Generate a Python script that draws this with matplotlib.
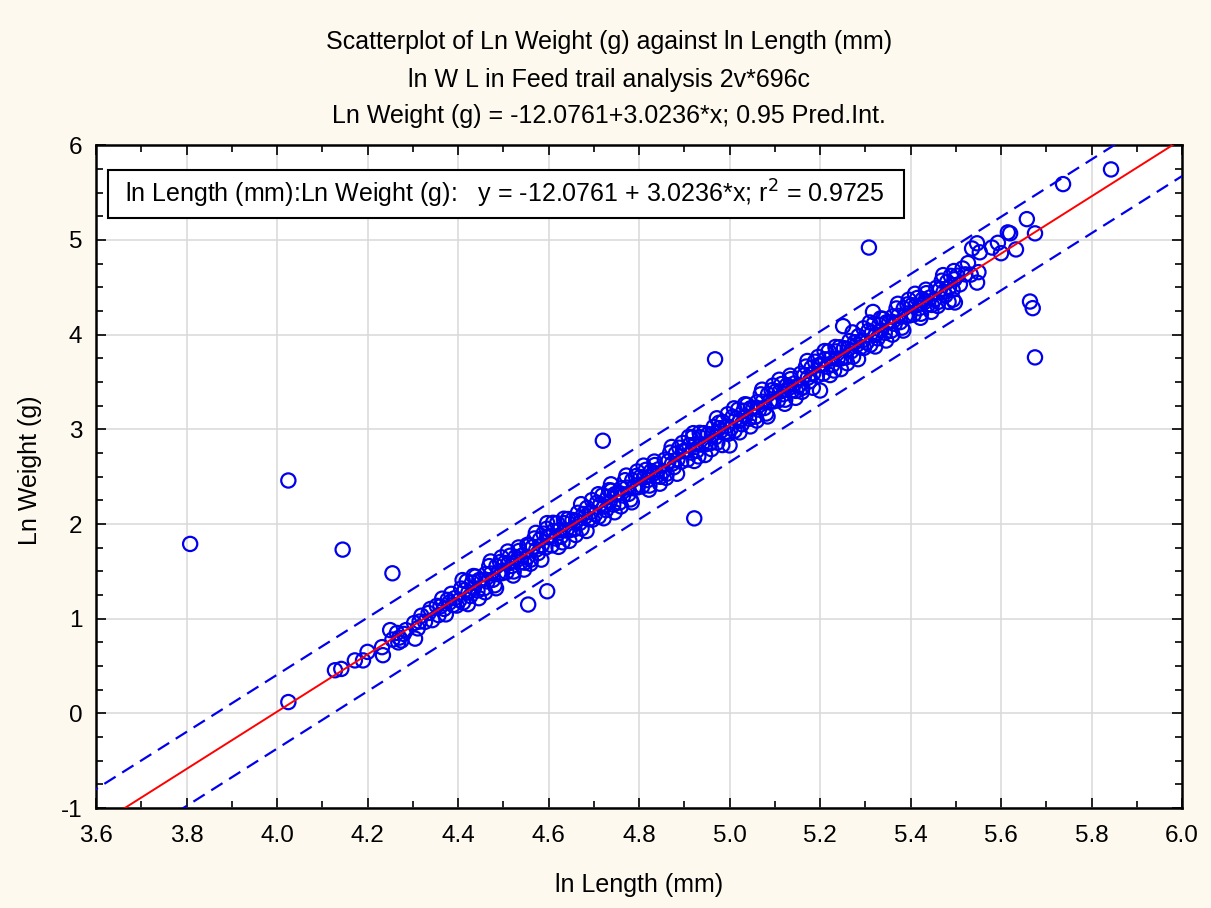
import matplotlib.pyplot as plt
import numpy as np
from matplotlib.ticker import MultipleLocator
from matplotlib.patches import Rectangle

# fitted model printed on the chart
intercept = -12.0761
slope = 3.0236
r_squared = 0.9725
resid_sd = 0.197

# main body of the cloud (group by group)
core_x = [
    4.303, 4.311, 4.319, 4.327, 4.335, 4.343, 4.315, 4.339,
    4.353, 4.357, 4.361, 4.365, 4.369, 4.373, 4.377, 4.381, 4.385, 4.389, 4.393, 4.397,
    4.403, 4.407, 4.411, 4.415, 4.419, 4.423, 4.427, 4.431, 4.435, 4.439, 4.443, 4.447,
    4.453, 4.457, 4.461, 4.465, 4.469, 4.473, 4.477, 4.481, 4.485, 4.489, 4.493, 4.497,
    4.503, 4.507, 4.511, 4.515, 4.519, 4.523, 4.527, 4.531, 4.535, 4.539, 4.543, 4.547,
    4.553, 4.557, 4.561, 4.565, 4.569, 4.573, 4.577, 4.581, 4.585, 4.589, 4.593, 4.597,
    4.603, 4.607, 4.611, 4.615, 4.619, 4.623, 4.627, 4.631, 4.635, 4.639, 4.643, 4.647,
    4.653, 4.657, 4.661, 4.665, 4.669, 4.673, 4.677, 4.681, 4.685, 4.689, 4.693, 4.697,
    4.703, 4.707, 4.711, 4.715, 4.719, 4.723, 4.727, 4.731, 4.735, 4.739, 4.743, 4.747,
    4.753, 4.757, 4.761, 4.765, 4.769, 4.773, 4.777, 4.781, 4.785, 4.789, 4.793, 4.797,
    4.803, 4.807, 4.811, 4.815, 4.819, 4.823, 4.827, 4.831, 4.835, 4.839, 4.843, 4.847,
    4.853, 4.857, 4.861, 4.865, 4.869, 4.873, 4.877, 4.881, 4.885, 4.889, 4.893, 4.897,
    4.903, 4.907, 4.911, 4.915, 4.919, 4.923, 4.927, 4.931, 4.935, 4.939, 4.943, 4.947,
    4.953, 4.957, 4.961, 4.965, 4.969, 4.973, 4.977, 4.981, 4.985, 4.989, 4.993, 4.997,
    5.003, 5.007, 5.011, 5.015, 5.019, 5.023, 5.027, 5.031, 5.035, 5.039, 5.043, 5.047,
    5.053, 5.057, 5.061, 5.065, 5.069, 5.073, 5.077, 5.081, 5.085, 5.089, 5.093, 5.097,
    5.103, 5.107, 5.111, 5.115, 5.119, 5.123, 5.127, 5.131, 5.135, 5.139, 5.143, 5.147,
    5.153, 5.157, 5.161, 5.165, 5.169, 5.173, 5.177, 5.181, 5.185, 5.189, 5.193, 5.197,
    5.203, 5.207, 5.211, 5.215, 5.219, 5.223, 5.227, 5.231, 5.235, 5.239, 5.243, 5.247,
    5.253, 5.257, 5.261, 5.265, 5.269, 5.273, 5.277, 5.281, 5.285, 5.289, 5.293, 5.297,
    5.303, 5.307, 5.311, 5.315, 5.319, 5.323, 5.327, 5.331, 5.335, 5.339, 5.343, 5.347,
    5.353, 5.357, 5.361, 5.365, 5.369, 5.373, 5.377, 5.381, 5.385, 5.389, 5.393, 5.397,
    5.403, 5.407, 5.411, 5.415, 5.419, 5.423, 5.427, 5.431, 5.435, 5.439, 5.443, 5.447,
    5.453, 5.457, 5.461, 5.465, 5.469, 5.473, 5.477, 5.481, 5.485, 5.489, 5.493, 5.497,
    5.503, 5.509, 5.515, 5.521, 5.527, 5.533,
]
core_y = [
    0.954, 0.898, 1.032, 0.967, 1.061, 0.985, 0.970, 1.103,
    1.136, 1.038, 1.130, 1.212, 1.104, 1.046, 1.199, 1.171, 1.263, 1.145, 1.218, 1.139,
    1.197, 1.319, 1.171, 1.303, 1.395, 1.277, 1.240, 1.382, 1.324, 1.446, 1.298, 1.410,
    1.408, 1.320, 1.472, 1.394, 1.556, 1.478, 1.411, 1.353, 1.555, 1.477, 1.599, 1.481,
    1.589, 1.491, 1.583, 1.665, 1.557, 1.499, 1.652, 1.624, 1.716, 1.598, 1.671, 1.592,
    1.650, 1.772, 1.624, 1.756, 1.848, 1.730, 1.693, 1.835, 1.777, 1.899, 1.751, 1.863,
    1.862, 1.774, 1.926, 1.848, 2.010, 1.932, 1.865, 1.807, 2.009, 1.931, 2.053, 1.935,
    2.043, 1.945, 2.037, 2.119, 2.011, 1.953, 2.106, 2.078, 2.170, 2.052, 2.125, 2.046,
    2.104, 2.226, 2.078, 2.210, 2.302, 2.184, 2.147, 2.289, 2.231, 2.353, 2.205, 2.317,
    2.315, 2.227, 2.379, 2.301, 2.463, 2.385, 2.318, 2.260, 2.462, 2.384, 2.506, 2.388,
    2.496, 2.398, 2.490, 2.572, 2.464, 2.406, 2.559, 2.531, 2.623, 2.505, 2.578, 2.499,
    2.557, 2.679, 2.531, 2.663, 2.755, 2.637, 2.600, 2.742, 2.684, 2.806, 2.658, 2.770,
    2.769, 2.681, 2.833, 2.755, 2.917, 2.839, 2.772, 2.714, 2.916, 2.838, 2.960, 2.842,
    2.950, 2.852, 2.944, 3.026, 2.918, 2.860, 3.013, 2.985, 3.077, 2.959, 3.032, 2.953,
    3.011, 3.133, 2.985, 3.117, 3.209, 3.091, 3.054, 3.196, 3.138, 3.260, 3.112, 3.224,
    3.222, 3.134, 3.286, 3.208, 3.370, 3.292, 3.225, 3.167, 3.369, 3.291, 3.413, 3.295,
    3.403, 3.305, 3.397, 3.479, 3.371, 3.313, 3.466, 3.438, 3.530, 3.412, 3.485, 3.406,
    3.465, 3.587, 3.439, 3.571, 3.663, 3.545, 3.508, 3.650, 3.592, 3.714, 3.566, 3.678,
    3.676, 3.588, 3.740, 3.662, 3.824, 3.746, 3.679, 3.621, 3.823, 3.745, 3.867, 3.749,
    3.857, 3.759, 3.851, 3.933, 3.825, 3.767, 3.920, 3.892, 3.984, 3.866, 3.939, 3.860,
    3.918, 4.040, 3.892, 4.024, 4.116, 3.998, 3.961, 4.103, 4.045, 4.167, 4.019, 4.131,
    4.129, 4.041, 4.193, 4.115, 4.277, 4.199, 4.132, 4.074, 4.276, 4.198, 4.320, 4.202,
    4.311, 4.213, 4.305, 4.387, 4.279, 4.221, 4.374, 4.346, 4.438, 4.320, 4.393, 4.314,
    4.372, 4.494, 4.346, 4.478, 4.570, 4.452, 4.415, 4.557, 4.499, 4.621, 4.473, 4.585,
    4.623, 4.531, 4.699, 4.637, 4.756, 4.634,
]

# points along the edges of the cloud
edge_x = [
    4.410, 4.422, 4.434, 4.446, 4.460, 4.472, 4.484, 4.496,
    4.510, 4.522, 4.534, 4.546, 4.560, 4.572, 4.584, 4.596,
    4.610, 4.622, 4.634, 4.646, 4.660, 4.672, 4.684, 4.696,
    4.710, 4.722, 4.734, 4.746, 4.760, 4.772, 4.784, 4.796,
    4.810, 4.822, 4.834, 4.846, 4.860, 4.872, 4.884, 4.896,
    4.910, 4.922, 4.934, 4.946, 4.960, 4.972, 4.984, 4.996,
    5.010, 5.022, 5.034, 5.046, 5.060, 5.072, 5.084, 5.096,
    5.110, 5.122, 5.134, 5.146, 5.160, 5.172, 5.184, 5.196,
    5.210, 5.222, 5.234, 5.246, 5.260, 5.272, 5.284, 5.296,
    5.310, 5.322, 5.334, 5.346, 5.360, 5.372, 5.384, 5.396,
    5.410, 5.422, 5.434, 5.446, 5.460, 5.472, 5.484, 5.496,
]
edge_y = [
    1.408, 1.154, 1.451, 1.217, 1.279, 1.605, 1.322, 1.648,
    1.710, 1.456, 1.753, 1.519, 1.581, 1.907, 1.624, 1.950,
    2.013, 1.759, 2.056, 1.822, 1.884, 2.210, 1.927, 2.253,
    2.315, 2.061, 2.358, 2.124, 2.186, 2.512, 2.229, 2.555,
    2.617, 2.363, 2.660, 2.426, 2.488, 2.814, 2.531, 2.857,
    2.920, 2.666, 2.963, 2.729, 2.791, 3.117, 2.834, 3.160,
    3.222, 2.968, 3.265, 3.031, 3.093, 3.419, 3.136, 3.462,
    3.524, 3.270, 3.567, 3.333, 3.396, 3.722, 3.439, 3.765,
    3.827, 3.573, 3.870, 3.636, 3.698, 4.024, 3.741, 4.067,
    4.129, 3.875, 4.172, 3.938, 4.000, 4.326, 4.043, 4.369,
    4.432, 4.178, 4.475, 4.241, 4.303, 4.629, 4.346, 4.672,
]

# small fish at the low end of the cloud
low_x = [4.128, 4.142, 4.172, 4.190, 4.200, 4.232, 4.234, 4.250, 4.255,
         4.265, 4.268, 4.270, 4.275, 4.280, 4.285, 4.305]
low_y = [0.456, 0.470, 0.560, 0.560, 0.650, 0.700, 0.615, 0.880, 0.780,
         0.850, 0.750, 0.800, 0.770, 0.840, 0.880, 0.790]

# scattered points away from the line and the big fish at the top end
far_x = [3.808, 4.025, 4.025, 4.145, 4.255, 4.555, 4.553, 4.597, 4.597, 4.720,
         4.738, 4.922, 4.968, 5.000, 4.977, 4.920, 5.200, 5.160, 5.251, 5.308,
         5.317, 5.494, 5.498, 5.547, 5.550, 5.547, 5.536, 5.553, 5.580, 5.593,
         5.600, 5.615, 5.620, 5.633, 5.657, 5.675, 5.664, 5.670, 5.675, 5.737,
         5.843]
far_y = [1.79, 2.46, 0.12, 1.73, 1.48, 1.15, 1.78, 1.29, 2.01, 2.88,
         2.42, 2.06, 3.74, 2.83, 3.07, 2.96, 3.41, 3.44, 4.09, 4.92,
         4.24, 4.37, 4.34, 4.55, 4.66, 4.965, 4.91, 4.87, 4.92, 4.97,
         4.86, 5.08, 5.07, 4.90, 5.22, 5.07, 4.35, 4.28, 3.76, 5.59,
         5.745]

ln_length = np.array(core_x + edge_x + low_x + far_x)
ln_weight = np.array(core_y + edge_y + low_y + far_y)

title_lines = [
    "Scatterplot of Ln Weight (g) against ln Length (mm)",
    "ln W L in Feed trail analysis 2v*696c",
    "Ln Weight (g) = -12.0761+3.0236*x; 0.95 Pred.Int.",
]
x_ticks = np.arange(3.6, 6.01, 0.2)
y_ticks = np.arange(-1, 7, 1)

plt.rcParams['font.family'] = ['Liberation Sans', 'DejaVu Sans']

fig = plt.figure(figsize=(12.11, 9.08), dpi=100, facecolor='#fdf9ee')
ax = fig.add_axes([0.0793, 0.110, 0.8968, 0.730])
ax.set_facecolor('white')

# grid
ax.grid(True, which='major', color='#d9d9d9', linewidth=1.1, zorder=0)
ax.set_axisbelow(True)

# scatter
ax.scatter(ln_length, ln_weight, s=105, facecolors='none', edgecolors='#0000ee',
           linewidths=1.6, zorder=3)

# regression line and 0.95 prediction interval
xs = np.linspace(3.5, 6.1, 300)
fit = intercept + slope * xs
n = len(ln_length)
xm = ln_length.mean()
sxx = np.sum((ln_length - xm) ** 2)
half = 1.963 * resid_sd * np.sqrt(1 + 1 / n + (xs - xm) ** 2 / sxx)
ax.plot(xs, fit, color='#ff0000', linewidth=1.4, zorder=4)
ax.plot(xs, fit + half, color='#0000ee', linewidth=1.6, dashes=(6, 3.5), zorder=4)
ax.plot(xs, fit - half, color='#0000ee', linewidth=1.6, dashes=(6, 3.5), zorder=4)

ax.set_xlim(3.6, 6.0)
ax.set_ylim(-1, 6)
ax.set_xticks(x_ticks)
ax.set_xticklabels([f"{v:.1f}" for v in x_ticks])
ax.set_yticks(y_ticks)
ax.set_yticklabels([f"{v:d}" for v in y_ticks])
ax.xaxis.set_minor_locator(MultipleLocator(0.1))
ax.yaxis.set_minor_locator(MultipleLocator(0.25))
ax.tick_params(which='both', direction='in', top=True, right=True,
               labelsize=17.5, width=1.2, colors='black')
ax.tick_params(which='major', length=7)
ax.tick_params(which='minor', length=5)
ax.tick_params(axis='x', pad=12)
ax.tick_params(axis='y', pad=10)
for sp in ax.spines.values():
    sp.set_linewidth(1.8)
    sp.set_color('black')

# equation box
ax.add_patch(Rectangle((0.011, 0.891), 0.733, 0.071, transform=ax.transAxes,
                       facecolor='white', edgecolor='black', linewidth=1.5, zorder=6))
ax.text(0.0267, 0.927,
        "ln Length (mm):Ln Weight (g):   y = -12.0761 + 3.0236*x; r$^2$ = %.4f" % r_squared,
        transform=ax.transAxes, fontsize=18, va='center', ha='left', zorder=7)

# titles and axis labels
for txt, yy in zip(title_lines, [0.9537, 0.9119, 0.8722]):
    fig.text(0.503, yy, txt, ha='center', va='center', fontsize=18)
fig.text(0.528, 0.0253, "ln Length (mm)", ha='center', va='center', fontsize=18)
fig.text(0.025, 0.482, "Ln Weight (g)", ha='center', va='center', fontsize=18,
         rotation=90)

fig.savefig('out.png', dpi=100, facecolor=fig.get_facecolor())
